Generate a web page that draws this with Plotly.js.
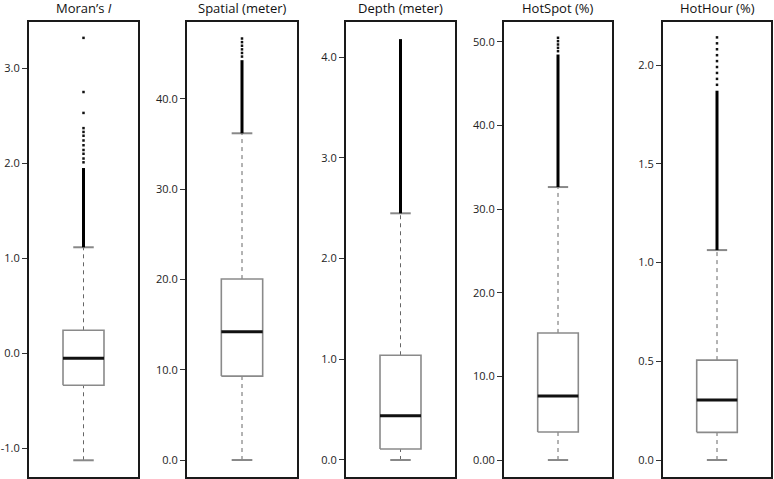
<!DOCTYPE html>
<html>
<head>
<meta charset="utf-8">
<script src="https://cdn.plot.ly/plotly-3.0.1.min.js"></script>
<style>html,body{margin:0;padding:0;background:#fff}#chart{width:774px;height:479px}</style>
</head>
<body>
<div id="chart"></div>
<script>
// ---- data ----
const titles = ["Moran\u2019s <i>I</i>", "Spatial (meter)", "Depth (meter)", "HotSpot (%)", "HotHour (%)"];
const q1      = [-0.337, 9.3, 0.109, 3.35, 0.14];
const median  = [-0.053, 14.2, 0.44, 7.65, 0.304];
const q3      = [0.242, 20.05, 1.04, 15.2, 0.506];
const lowerWhisker = [-1.126, 0.0, 0.0, 0.0, 0.0];
const upperWhisker = [1.116, 36.2, 2.45, 32.65, 1.063];
// dense (overlapping) outlier runs: [from, to]
const denseOutliers = [[1.116, 1.95], [36.2, 44.3], [2.45, 4.18], [32.65, 48.5], [1.063, 1.87]];
// sparse individual outliers
const sparseOutliers = [
  [2.01, 2.05, 2.10, 2.14, 2.19, 2.24, 2.29, 2.33, 2.37, 2.53, 2.75, 3.32],
  [44.7, 45.1, 45.5, 45.9, 46.3, 46.7],
  [],
  [48.9, 49.3, 49.7, 50.1, 50.5],
  [1.90, 1.93, 1.96, 1.99, 2.02, 2.05, 2.08, 2.11, 2.14]
];
const tickVals = [
  [-1, 0, 1, 2, 3],
  [0, 10, 20, 30, 40],
  [0, 1, 2, 3, 4],
  [0, 10, 20, 30, 40, 50],
  [0, 0.5, 1, 1.5, 2]
];
const tickText = [
  ["-1.0", "0.0", "1.0", "2.0", "3.0"],
  ["0.0", "10.0", "20.0", "30.0", "40.0"],
  ["0.0", "1.0", "2.0", "3.0", "4.0"],
  ["0.00", "10.0", "20.0", "30.0", "40.0", "50.0"],
  ["0.0", "0.5", "1.0", "1.5", "2.0"]
];
const yRanges = [[-1.302, 3.487], [-1.88, 48.53], [-0.169, 4.35], [-2.03, 52.39], [-0.086, 2.218]];

// ---- layout geometry ----
const W = 774, H = 479;
const panelX = [[29, 138], [187, 297], [346, 455], [504, 612], [663, 771]];
const panelTop = 22, panelBottom = 477;
const bx0 = 0.312, bx1 = 0.688, cx = 0.5, cap0 = 0.406, cap1 = 0.594;

const traces = [];
const layout = {
  width: W, height: H,
  margin: {l: 0, r: 0, t: 0, b: 0},
  paper_bgcolor: "#fff", plot_bgcolor: "#fff",
  showlegend: false,
  font: {family: "Open Sans, sans-serif", color: "#222"},
  annotations: []
};

for (let i = 0; i < 5; i++) {
  const n = i === 0 ? "" : String(i + 1);
  const xa = "x" + n, ya = "y" + n;
  const common = {xaxis: xa, yaxis: ya, hoverinfo: "skip", showlegend: false};
  // whiskers (dashed)
  traces.push(Object.assign({
    type: "scatter", mode: "lines",
    x: [cx, cx, null, cx, cx],
    y: [lowerWhisker[i], q1[i], null, q3[i], upperWhisker[i]],
    line: {color: "#666", width: 1, dash: "4px,4px"}
  }, common));
  // whisker caps
  traces.push(Object.assign({
    type: "scatter", mode: "lines",
    x: [cap0, cap1, null, cap0, cap1],
    y: [lowerWhisker[i], lowerWhisker[i], null, upperWhisker[i], upperWhisker[i]],
    line: {color: "#888", width: 2}
  }, common));
  // dense outliers
  traces.push(Object.assign({
    type: "scatter", mode: "lines",
    x: [cx, cx],
    y: denseOutliers[i],
    line: {color: "#000", width: 3}
  }, common));
  // sparse outliers
  if (sparseOutliers[i].length) {
    traces.push(Object.assign({
      type: "scatter", mode: "markers",
      x: sparseOutliers[i].map(() => cx),
      y: sparseOutliers[i],
      marker: {color: "#111", size: 2.5, symbol: "square"}
    }, common));
  }
  // box
  traces.push(Object.assign({
    type: "scatter", mode: "lines",
    x: [bx0, bx1, bx1, bx0, bx0],
    y: [q1[i], q1[i], q3[i], q3[i], q1[i]],
    fill: "toself", fillcolor: "#fff",
    line: {color: "#8a8a8a", width: 1.6}
  }, common));
  // median
  traces.push(Object.assign({
    type: "scatter", mode: "lines",
    x: [bx0, bx1],
    y: [median[i], median[i]],
    line: {color: "#111", width: 3}
  }, common));

  layout["xaxis" + n] = {
    domain: [panelX[i][0] / W, panelX[i][1] / W],
    anchor: ya, range: [0, 1],
    showticklabels: false, ticks: "", showgrid: false, zeroline: false,
    showline: true, mirror: true, linecolor: "#1a1a1a", linewidth: 2, fixedrange: true
  };
  layout["yaxis" + n] = {
    domain: [(H - panelBottom) / H, (H - panelTop) / H],
    anchor: xa, range: yRanges[i],
    tickmode: "array", tickvals: tickVals[i], ticktext: tickText[i],
    ticks: "outside", ticklen: 5, tickwidth: 1, tickcolor: "#333",
    tickfont: {size: 11, color: "#222", family: "Open Sans, sans-serif"},
    showgrid: false, zeroline: false,
    showline: true, mirror: true, linecolor: "#1a1a1a", linewidth: 2, fixedrange: true
  };
  layout.annotations.push({
    text: titles[i], xref: "paper", yref: "paper",
    x: (panelX[i][0] + panelX[i][1]) / 2 / W, y: (H - 8) / H,
    xanchor: "center", yanchor: "middle", showarrow: false,
    font: {size: 13, color: "#111", family: "Open Sans, sans-serif"}
  });
}

Plotly.newPlot("chart", traces, layout, {displayModeBar: false, staticPlot: true});
</script>
</body>
</html>
